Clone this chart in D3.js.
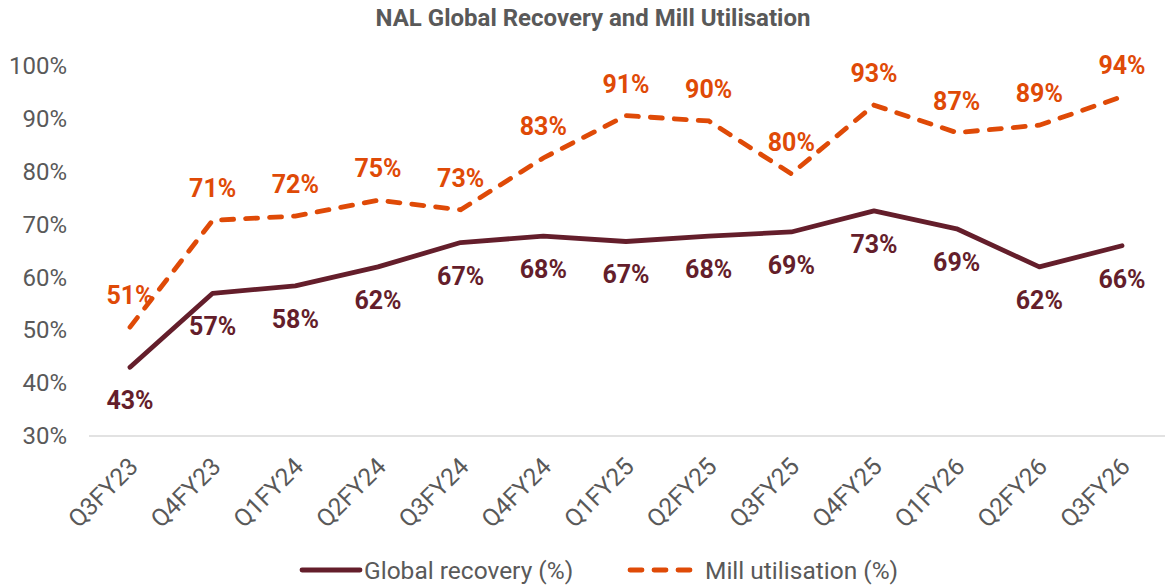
<!DOCTYPE html>
<html>
<head>
<meta charset="utf-8">
<script src="https://cdn.jsdelivr.net/npm/d3@7"></script>
<style>
  body { margin: 0; background: #fff; }
  svg { font-family: Roboto, "Noto Sans", sans-serif; }
</style>
</head>
<body>
<svg id="chart" width="1165" height="587"></svg>
<script>
// Data
const quarters = ['Q3FY23', 'Q4FY23', 'Q1FY24', 'Q2FY24', 'Q3FY24', 'Q4FY24', 'Q1FY25',
  'Q2FY25', 'Q3FY25', 'Q4FY25', 'Q1FY26', 'Q2FY26', 'Q3FY26'];
const globalRecovery = [43, 57, 58.4, 62, 66.6, 67.8, 66.8, 67.8, 68.6, 72.6, 69.2, 62, 66];
const millUtilisation = [50.6, 70.8, 71.6, 74.6, 72.8, 82.6, 90.6, 89.6, 79.6, 92.6, 87.4, 88.8, 94.2];
const yTicks = [30, 40, 50, 60, 70, 80, 90, 100];

const recColor = '#641E2B';
const millColor = '#DF4A07';
const grey = '#595959';

const svg = d3.select('#chart');

const x = d3.scalePoint()
  .domain(quarters)
  .range([130, 1122]);

const y = d3.scaleLinear()
  .domain([30, 100])
  .range([436, 66]);

// Titulo
svg.append('text')
  .attr('x', 593)
  .attr('y', 26)
  .attr('text-anchor', 'middle')
  .style('font-size', '24px')
  .style('font-weight', 'bold')
  .style('fill', grey)
  .text('NAL Global Recovery and Mill Utilisation');

// Eje Y (solo etiquetas)
const yAxis = svg.append('g')
  .attr('transform', 'translate(67,0)')
  .call(d3.axisLeft(y).tickValues(yTicks).tickSize(0).tickPadding(0).tickFormat(d => d + '%'));
yAxis.select('.domain').remove();
yAxis.selectAll('text')
  .style('font-size', '24px')
  .style('font-family', 'Roboto, sans-serif')
  .style('fill', grey);

// Eje X
const xAxis = svg.append('g')
  .attr('transform', 'translate(0,436)')
  .call(d3.axisBottom(x).tickSize(0).tickPadding(0));
xAxis.select('.domain').remove();
svg.append('line')
  .attr('x1', 89).attr('x2', 1165)
  .attr('y1', 436).attr('y2', 436)
  .style('stroke', '#d9d9d9')
  .style('stroke-width', 1.5);
xAxis.selectAll('text')
  .attr('dy', 0)
  .attr('transform', 'translate(9,32) rotate(-45)')
  .style('text-anchor', 'end')
  .style('font-size', '24.5px')
  .style('font-family', 'Roboto, sans-serif')
  .style('fill', grey);

const line = d3.line()
  .x((d, i) => x(quarters[i]))
  .y(d => y(d));

// Lineas
svg.append('path')
  .datum(millUtilisation)
  .attr('d', line)
  .style('fill', 'none')
  .style('stroke', millColor)
  .style('stroke-width', 4.8)
  .style('stroke-linecap', 'round')
  .style('stroke-dasharray', '12 12');

svg.append('path')
  .datum(globalRecovery)
  .attr('d', line)
  .style('fill', 'none')
  .style('stroke', recColor)
  .style('stroke-width', 4.8)
  .style('stroke-linecap', 'round')
  .style('stroke-linejoin', 'round');

// Valores
svg.selectAll('.mill-label')
  .data(millUtilisation)
  .enter()
  .append('text')
  .attr('x', (d, i) => x(quarters[i]))
  .attr('y', d => y(d) - 23)
  .attr('text-anchor', 'middle')
  .style('fill', millColor)
  .style('font-weight', 'bold')
  .style('font-size', '25px')
  .text(d => Math.round(d) + '%');

svg.selectAll('.rec-label')
  .data(globalRecovery)
  .enter()
  .append('text')
  .attr('x', (d, i) => x(quarters[i]))
  .attr('y', d => y(d) + 42)
  .attr('text-anchor', 'middle')
  .style('fill', recColor)
  .style('font-weight', 'bold')
  .style('font-size', '25px')
  .text(d => Math.round(d) + '%');

// Leyenda
const legend = svg.append('g');
legend.append('line')
  .attr('x1', 302).attr('x2', 360).attr('y1', 570).attr('y2', 570)
  .style('stroke', recColor).style('stroke-width', 4.8).style('stroke-linecap', 'round');
legend.append('text')
  .attr('x', 364).attr('y', 579)
  .style('font-size', '24.5px').style('fill', grey)
  .text('Global recovery (%)');
legend.append('line')
  .attr('x1', 630).attr('x2', 692).attr('y1', 570).attr('y2', 570)
  .style('stroke', millColor).style('stroke-width', 4.8).style('stroke-linecap', 'round')
  .style('stroke-dasharray', '12 12');
legend.append('text')
  .attr('x', 705).attr('y', 579)
  .style('font-size', '24.5px').style('fill', grey)
  .text('Mill utilisation (%)');
</script>
</body>
</html>
